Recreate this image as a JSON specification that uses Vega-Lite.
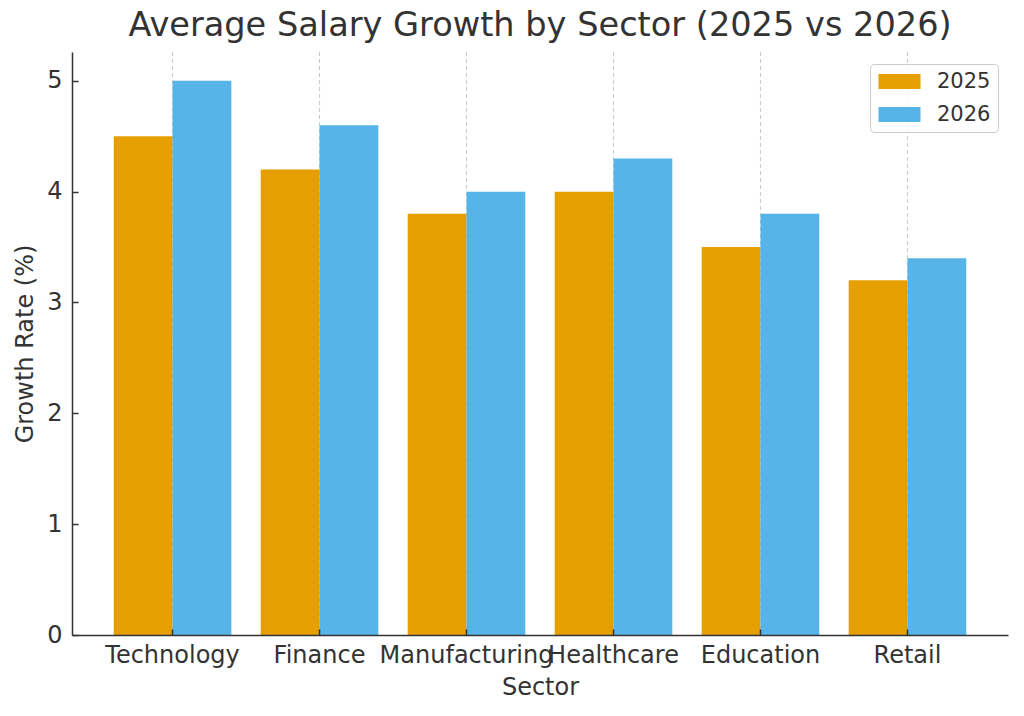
{
  "$schema": "https://vega.github.io/schema/vega-lite/v6.json",
  "autosize": "none",
  "width": 936,
  "height": 583,
  "padding": {"left": 72, "top": 52, "right": 16, "bottom": 81},
  "background": "white",
  "title": {
    "text": "Average Salary Growth by Sector (2025 vs 2026)",
    "font": "DejaVu Sans",
    "fontSize": 33.6,
    "fontWeight": "normal",
    "color": "#333333",
    "anchor": "middle",
    "offset": 9
  },
  "data": {
    "values": [
      {"sector": "Technology", "year": "2025", "growth": 4.5},
      {"sector": "Technology", "year": "2026", "growth": 5.0},
      {"sector": "Finance", "year": "2025", "growth": 4.2},
      {"sector": "Finance", "year": "2026", "growth": 4.6},
      {"sector": "Manufacturing", "year": "2025", "growth": 3.8},
      {"sector": "Manufacturing", "year": "2026", "growth": 4.0},
      {"sector": "Healthcare", "year": "2025", "growth": 4.0},
      {"sector": "Healthcare", "year": "2026", "growth": 4.3},
      {"sector": "Education", "year": "2025", "growth": 3.5},
      {"sector": "Education", "year": "2026", "growth": 3.8},
      {"sector": "Retail", "year": "2025", "growth": 3.2},
      {"sector": "Retail", "year": "2026", "growth": 3.4}
    ]
  },
  "encoding": {
    "x": {
      "field": "sector",
      "type": "nominal",
      "sort": null,
      "title": "Sector",
      "scale": {"paddingInner": 0.2, "paddingOuter": 0.284},
      "axis": {
        "labelAngle": 0,
        "labelOverlap": false,
        "labelBound": false,
        "bandPosition": 0.5,
        "grid": false,
        "tickSize": -6,
        "tickColor": "#333333",
        "tickWidth": 1.5,
        "labelPadding": 14,
        "titlePadding": 8,
        "zindex": 1
      }
    }
  },
  "layer": [
    {
      "mark": {"type": "rule", "color": "#cccccc", "strokeWidth": 1, "strokeDash": [4, 3]},
      "encoding": {
        "x": {"field": "sector", "type": "nominal", "sort": null, "bandPosition": 0.5}
      }
    },
    {
      "mark": {"type": "bar"},
      "encoding": {
        "xOffset": {"field": "year", "type": "nominal", "scale": {"paddingInner": 0, "paddingOuter": 0}},
        "y": {
          "field": "growth",
          "type": "quantitative",
          "title": "Growth Rate (%)",
          "scale": {"domain": [0, 5.26], "nice": false, "zero": true},
          "axis": {
            "values": [0, 1, 2, 3, 4, 5],
            "grid": false,
            "tickSize": -6,
            "tickColor": "#333333",
            "tickWidth": 1.5,
            "labelPadding": 16,
            "titlePadding": 9,
            "zindex": 1
          }
        },
        "color": {
          "field": "year",
          "type": "nominal",
          "title": null,
          "scale": {"domain": ["2025", "2026"], "range": ["#E69F00", "#56B4E9"]},
          "legend": {
            "orient": "none",
            "legendX": 798,
            "legendY": 12,
            "symbolType": "M-2,-0.72H2V0.72H-2Z",
            "symbolSize": 441,
            "symbolStrokeWidth": 0,
            "symbolOpacity": 1,
            "symbolOffset": 12,
            "labelFont": "DejaVu Sans",
            "labelFontSize": 21,
            "labelColor": "#333333",
            "labelOffset": 27,
            "rowPadding": 11,
            "padding": 7,
            "strokeColor": "#cccccc",
            "fillColor": "rgba(255,255,255,0.85)",
            "cornerRadius": 4
          }
        }
      }
    }
  ],
  "config": {
    "font": "DejaVu Sans",
    "view": {"stroke": null},
    "axis": {
      "domainColor": "#333333",
      "domainWidth": 1.5,
      "labelFont": "DejaVu Sans",
      "labelFontSize": 24,
      "labelColor": "#333333",
      "titleFont": "DejaVu Sans",
      "titleFontSize": 24,
      "titleFontWeight": "normal",
      "titleColor": "#333333"
    }
  }
}
